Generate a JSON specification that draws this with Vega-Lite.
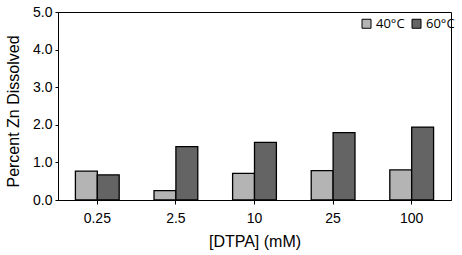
{
  "$schema": "https://vega.github.io/schema/vega-lite/v6.json",
  "width": 393,
  "height": 188,
  "autosize": {"type": "none"},
  "padding": {"left": 58, "top": 12, "right": 11, "bottom": 55},
  "background": "white",
  "config": {
    "view": {"stroke": "black", "strokeWidth": 1},
    "axis": {"grid": false, "domainColor": "black", "tickColor": "black", "labelColor": "black", "titleColor": "black", "labelFont": "Liberation Sans", "titleFont": "Liberation Sans", "titleFontWeight": "normal"}
  },
  "data": {
    "values": [
      {"dtpa": "0.25", "temp": "40°C", "pct": 0.77},
      {"dtpa": "0.25", "temp": "60°C", "pct": 0.67},
      {"dtpa": "2.5", "temp": "40°C", "pct": 0.25},
      {"dtpa": "2.5", "temp": "60°C", "pct": 1.42},
      {"dtpa": "10", "temp": "40°C", "pct": 0.71},
      {"dtpa": "10", "temp": "60°C", "pct": 1.53},
      {"dtpa": "25", "temp": "40°C", "pct": 0.78},
      {"dtpa": "25", "temp": "60°C", "pct": 1.79},
      {"dtpa": "100", "temp": "40°C", "pct": 0.80},
      {"dtpa": "100", "temp": "60°C", "pct": 1.94}
    ]
  },
  "mark": {"type": "bar", "stroke": "black", "strokeWidth": 1.3},
  "encoding": {
    "x": {
      "field": "dtpa", "type": "nominal", "sort": ["0.25", "2.5", "10", "25", "100"],
      "scale": {"paddingInner": 0.443, "paddingOuter": 0.2215},
      "axis": {"title": "[DTPA] (mM)", "labelAngle": 0, "labelFontSize": 14, "titleFontSize": 16, "tickSize": 4, "labelPadding": 7, "titlePadding": 8}
    },
    "xOffset": {"field": "temp", "type": "nominal", "scale": {"paddingInner": 0, "paddingOuter": 0}},
    "y": {
      "field": "pct", "type": "quantitative",
      "scale": {"domain": [0, 5]},
      "axis": {"title": "Percent Zn Dissolved", "values": [0, 1, 2, 3, 4, 5], "format": ".1f", "labelFontSize": 14, "titleFontSize": 16, "tickSize": 3, "labelPadding": 3, "titleX": -45, "titleY": 99, "titleAngle": -90, "titleAlign": "center", "titleBaseline": "middle"}
    },
    "color": {
      "field": "temp", "type": "nominal",
      "scale": {"domain": ["40°C", "60°C"], "range": ["#b4b4b4", "#646464"]},
      "legend": {"title": null, "orient": "none", "legendX": 302, "legendY": 5, "direction": "horizontal", "symbolType": "square", "symbolSize": 81, "symbolStrokeColor": "black", "symbolStrokeWidth": 1, "symbolOpacity": 1, "labelFont": "Open Sans", "labelFontSize": 13, "labelColor": "black", "labelOffset": 3, "columnPadding": 5}
    }
  }
}
